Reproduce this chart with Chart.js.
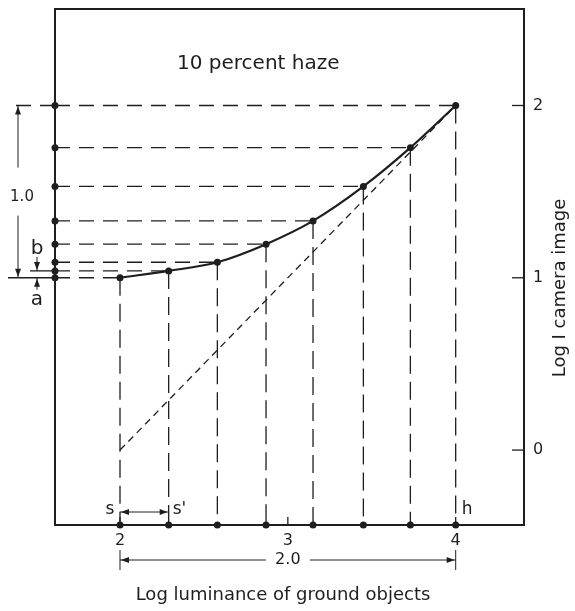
<!DOCTYPE html>
<html>
<head>
<meta charset="utf-8">
<script src="https://cdn.jsdelivr.net/npm/chart.js@4"></script>
<style>
  body { margin: 0; background: #fff; }
  canvas { display: block; }
</style>
</head>
<body>
<canvas id="grafico" width="575" height="611"></canvas>
<script>
// pontos da curva com 10% de neblina (log luminancia -> log I)
var logLum = [2.0, 2.29, 2.58, 2.87, 3.15, 3.45, 3.73, 4.0];
var logImg = [1.0, 1.04, 1.09, 1.195, 1.33, 1.53, 1.755, 2.0];
// reta sem neblina
var semNeblinaX = [2, 4];
var semNeblinaY = [0, 2];
var ticksX = [2, 3, 4];
var ticksY = [0, 1, 2];
var xMin = 1.6127, xMax = 4.407;
var yMin = -0.435, yMax = 2.56;

var tinta = '#1e1e1e';
var fonte = '"DejaVu Sans", sans-serif';

var datasets = [];

datasets.push({
    data: logLum.map(function (v, i) { return { x: v, y: logImg[i] }; }),
    showLine: true,
    borderColor: tinta,
    borderWidth: 2.2,
    tension: 0.4,
    cubicInterpolationMode: 'monotone',
    pointRadius: 3.5,
    pointBackgroundColor: tinta,
    pointBorderWidth: 0,
    clip: false
});

datasets.push({
    data: semNeblinaX.map(function (v, i) { return { x: v, y: semNeblinaY[i] }; }),
    showLine: true,
    borderColor: tinta,
    borderWidth: 1.3,
    borderDash: [7, 5],
    pointRadius: 0
});

// linhas tracejadas horizontais e verticais
logLum.forEach(function (v, i) {
    datasets.push({
        data: [{ x: xMin, y: logImg[i] }, { x: v, y: logImg[i] }],
        showLine: true,
        borderColor: tinta,
        borderWidth: 1.3,
        borderDash: [15, 9],
        pointRadius: 0
    });
    datasets.push({
        data: [{ x: v, y: logImg[i] }, { x: v, y: yMin }],
        showLine: true,
        borderColor: tinta,
        borderWidth: 1.3,
        borderDash: [18, 8],
        pointRadius: 0
    });
});

// pontos nos eixos
datasets.push({
    data: logImg.map(function (v) { return { x: xMin, y: v }; }),
    pointRadius: 3.5,
    pointBackgroundColor: tinta,
    pointBorderWidth: 0,
    clip: false
});
datasets.push({
    data: logLum.map(function (v) { return { x: v, y: yMin }; }),
    pointRadius: 3.5,
    pointBackgroundColor: tinta,
    pointBorderWidth: 0,
    clip: false
});

function seta(ctx, x, y, dir) {
    // dir: 'up','down','left','right' - ponta em (x,y)
    ctx.beginPath();
    if (dir === 'up') { ctx.moveTo(x - 3, y + 8); ctx.lineTo(x, y); ctx.lineTo(x + 3, y + 8); }
    if (dir === 'down') { ctx.moveTo(x - 3, y - 8); ctx.lineTo(x, y); ctx.lineTo(x + 3, y - 8); }
    if (dir === 'left') { ctx.moveTo(x + 8, y - 3); ctx.lineTo(x, y); ctx.lineTo(x + 8, y + 3); }
    if (dir === 'right') { ctx.moveTo(x - 8, y - 3); ctx.lineTo(x, y); ctx.lineTo(x - 8, y + 3); }
    ctx.closePath();
    ctx.fill();
}

function linha(ctx, x1, y1, x2, y2) {
    ctx.beginPath();
    ctx.moveTo(x1, y1);
    ctx.lineTo(x2, y2);
    ctx.stroke();
}

var anotacoes = {
    id: 'anotacoes',
    afterDraw: function (chart) {
        var ctx = chart.ctx;
        var a = chart.chartArea;
        var sx = chart.scales.x, sy = chart.scales.y;
        ctx.save();
        ctx.strokeStyle = tinta;
        ctx.fillStyle = tinta;

        // moldura
        ctx.lineWidth = 2;
        ctx.strokeRect(a.left, a.top, a.right - a.left, a.bottom - a.top);

        // ticks eixo direito
        ctx.lineWidth = 1.3;
        ctx.font = '16px ' + fonte;
        ctx.textAlign = 'left';
        ctx.textBaseline = 'middle';
        ticksY.forEach(function (t) {
            var py = sy.getPixelForValue(t);
            linha(ctx, a.right - 12, py, a.right, py);
            ctx.fillText(String(t), a.right + 9, py);
        });

        // ticks eixo inferior
        ctx.textAlign = 'center';
        ctx.textBaseline = 'top';
        ticksX.forEach(function (t) {
            var px = sx.getPixelForValue(t);
            linha(ctx, px, a.bottom, px, a.bottom - 8);
            ctx.fillText(String(t), px, a.bottom + 8);
        });

        // seta 2.0
        var x2 = sx.getPixelForValue(2), x4 = sx.getPixelForValue(4);
        var yb = 560;
        ctx.lineWidth = 1;
        linha(ctx, x2, yb - 10, x2, yb + 10);
        linha(ctx, x4, yb - 10, x4, yb + 10);
        linha(ctx, x2, yb, (x2 + x4) / 2 - 22, yb);
        linha(ctx, (x2 + x4) / 2 + 22, yb, x4, yb);
        seta(ctx, x2 + 1, yb, 'left');
        seta(ctx, x4 - 1, yb, 'right');
        ctx.textBaseline = 'middle';
        ctx.fillText('2.0', (x2 + x4) / 2, yb);

        // s e s'
        var xs2 = sx.getPixelForValue(logLum[1]);
        var ys = 512;
        linha(ctx, x2, ys, xs2, ys);
        seta(ctx, x2 + 1, ys, 'left');
        seta(ctx, xs2 - 1, ys, 'right');
        ctx.font = '17px ' + fonte;
        ctx.fillText('s', x2 - 10, ys - 2);
        ctx.textAlign = 'left';
        ctx.fillText("s'", xs2 + 4, ys - 2);
        ctx.fillText('h', x4 + 6, 510);

        // lado esquerdo: 1.0, b, a
        var y2p = sy.getPixelForValue(2), y1p = sy.getPixelForValue(1);
        var yb2 = sy.getPixelForValue(logImg[1]);
        ctx.lineWidth = 1.3;
        ctx.setLineDash([15, 9]);
        linha(ctx, a.left, y2p, 8, y2p);
        ctx.setLineDash([]);
        linha(ctx, 8, y1p, a.left, y1p);
        linha(ctx, 30, yb2, a.left, yb2);
        ctx.lineWidth = 1;
        var xa = 18;
        var ym = (y2p + y1p) / 2;
        linha(ctx, xa, y2p, xa, ym - 24);
        linha(ctx, xa, ym + 24, xa, y1p);
        seta(ctx, xa, y2p + 1, 'up');
        seta(ctx, xa, y1p - 1, 'down');
        ctx.font = '15px ' + fonte;
        ctx.textAlign = 'center';
        ctx.textBaseline = 'middle';
        ctx.fillText('1.0', xa + 4, ym + 5);

        var xb = 37;
        linha(ctx, xb, yb2 - 14, xb, yb2);
        seta(ctx, xb, yb2 - 1, 'down');
        linha(ctx, xb, y1p, xb, y1p + 12);
        seta(ctx, xb, y1p + 1, 'up');
        ctx.font = '20px ' + fonte;
        ctx.fillText('b', xb, 249);
        ctx.fillText('a', xb, 300);

        // titulos
        ctx.font = '20px ' + fonte;
        ctx.textAlign = 'left';
        ctx.fillText('10 percent haze', 177, 64);
        ctx.font = '18px ' + fonte;
        ctx.textAlign = 'center';
        ctx.fillText('Log luminance of ground objects', 283, 595);
        ctx.translate(560, 288);
        ctx.rotate(-Math.PI / 2);
        ctx.fillText('Log I camera image', 0, 0);
        ctx.restore();
    }
};

var grafico = new Chart(document.getElementById('grafico').getContext('2d'), {
    type: 'scatter',
    data: { datasets: datasets },
    options: {
        responsive: false,
        animation: false,
        layout: { padding: { left: 55, right: 51, top: 9, bottom: 86 } },
        plugins: { legend: { display: false }, tooltip: { enabled: false } },
        scales: {
            x: { type: 'linear', min: xMin, max: xMax, display: false },
            y: { type: 'linear', min: yMin, max: yMax, display: false }
        }
    },
    plugins: [anotacoes]
});
</script>
</body>
</html>
